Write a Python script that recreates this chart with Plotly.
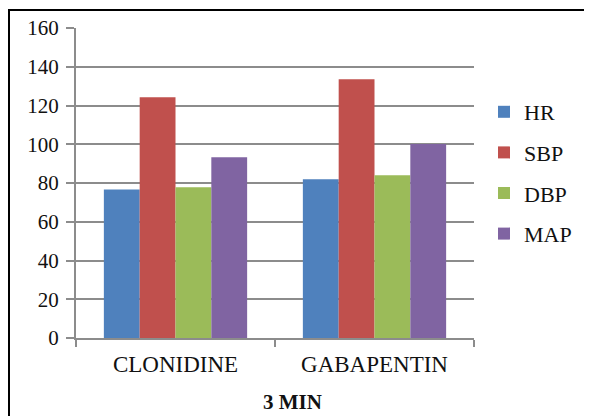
import plotly.graph_objects as go

categories = ["CLONIDINE", "GABAPENTIN"]
series_names = ["HR", "SBP", "DBP", "MAP"]
hr = [76.7, 81.9]
sbp = [124.2, 133.5]
dbp = [77.8, 84.0]
map_ = [93.3, 100.1]
series_values = [hr, sbp, dbp, map_]
colors = ["#4F81BD", "#C0504D", "#9BBB59", "#8064A2"]
y_ticks = [0, 20, 40, 60, 80, 100, 120, 140, 160]
x_title = "3 MIN"

SERIF = "Liberation Serif, Times New Roman, serif"

fig = go.Figure()
for name, vals, col in zip(series_names, series_values, colors):
    fig.add_trace(go.Bar(
        x=categories, y=vals, name=name, legendgroup=name,
        marker=dict(color=col, line=dict(width=0)),
    ))

# page body has an 8px margin; work in page coordinates and convert
OFF = 8
W, H = 592 - OFF, 416 - OFF
pl, pr, pt, pb = 76, 474, 28, 338  # plot area in page coordinates
L, R, T, B = pl - OFF, (592 - pr), pt - OFF, (416 - pb)
pw, ph = pr - pl, pb - pt

def px(x):
    return (x - pl) / pw

def py(y):
    return (pb - y) / ph

fig.update_layout(
    width=W, height=H,
    margin=dict(l=L, r=R, t=T, b=B, pad=0, autoexpand=False),
    paper_bgcolor="white", plot_bgcolor="white",
    barmode="group", bargap=0.28, bargroupgap=0,
    font=dict(family=SERIF, size=21, color="#111111"),
    showlegend=True,
    legend=dict(
        x=px(484), y=py(91), xanchor="left", yanchor="top",
        font=dict(family=SERIF, size=22, color="#111111"),
        traceorder="grouped", tracegroupgap=9,
        itemwidth=30, bgcolor="rgba(0,0,0,0)",
    ),
    xaxis=dict(
        showline=True, linecolor="#8c8c8c", linewidth=2,
        ticks="outside", tickson="boundaries", ticklen=7, tickcolor="#8c8c8c",
        tickwidth=2,
        tickfont=dict(family=SERIF, size=23),
        ticklabelstandoff=4,
    ),
    yaxis=dict(
        range=[0, 160], tickvals=y_ticks, showline=True, linecolor="#8c8c8c", linewidth=2,
        ticks="outside", ticklen=8, tickcolor="#8c8c8c", tickwidth=2,
        showgrid=True, gridcolor="#8c8c8c", gridwidth=2, zeroline=False,
        tickfont=dict(family=SERIF, size=21),
        ticklabelstandoff=3,
    ),
    annotations=[dict(
        text="<b>" + x_title + "</b>", xref="paper", yref="paper",
        x=px(292), y=py(402), xanchor="center", yanchor="middle",
        showarrow=False, font=dict(family=SERIF, size=21, color="#111111"),
    )],
    shapes=[dict(
        type="rect", xref="paper", yref="paper",
        x0=px(9), x1=px(590.5), y0=py(440), y1=py(10),
        line=dict(color="black", width=2), fillcolor="rgba(0,0,0,0)",
    )],
)

fig.write_html("out.html")
